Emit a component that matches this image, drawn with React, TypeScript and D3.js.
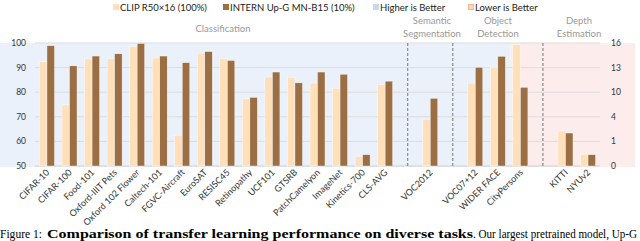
import React from "react";
import * as d3 from "d3";

const clsCats = ["CIFAR-10","CIFAR-100","Food-101","Oxford-IIIT Pets","Oxford 102 Flower","Caltech-101","FGVC-Aircraft","EuroSAT","RESISC45","Retinopathy","UCF101","GTSRB","PatchCamelyon","ImageNet","Kinetics-700","CLS-AVG"];
const clsClip = [92.4,74.8,93.5,93.6,98.5,93.9,62.5,95.8,93.6,77.3,86.2,86.1,83.7,81.6,54.0,83.0];
const clsIntern = [98.9,90.7,94.7,95.6,99.8,94.7,92.0,96.5,92.9,77.9,88.2,83.8,88.2,87.3,54.6,84.5];

const segCats = ["VOC2012"];
const segClip = [69.0];
const segIntern = [77.5];

const detCats = ["VOC07+12","WIDER FACE"];
const detClip = [83.7,90.2];
const detIntern = [90.1,94.6];

// lower-is-better tasks, read on the right axis
const lowCats = ["CityPersons","KITTI","NYUv2"];
const lowClip = [15.8,2.26,0.48];
const lowIntern = [10.6,2.02,0.46];

const leftTicks = [50,60,70,80,90,100];
const rightTicks = [0,1,4,10,13,16];

const sections = [
  { lines: ["Classification"], cx: 223, y: 32 },
  { lines: ["Semantic","Segmentation"], cx: 432, y: 24 },
  { lines: ["Object","Detection"], cx: 498, y: 24 },
  { lines: ["Depth","Estimation"], cx: 579, y: 24 },
];

const legendItems = [
  { label: "CLIP R50×16 (100%)", x: 113, kind: "clip" },
  { label: "INTERN Up-G MN-B15 (10%)", x: 223, kind: "intern" },
  { label: "Higher is Better", x: 373, kind: "high" },
  { label: "Lower is Better", x: 468, kind: "low" },
];

const C_CLIP = "#FFE0BA";
const C_INT = "#9B6F43";
const C_BLUE = "#EAF1FB";
const C_PINK = "#FDECEC";
const FONT = "Lato, 'Open Sans', sans-serif";
const SERIF = "'Liberation Serif', 'Times New Roman', serif";

export default function App() {
  const domain = [...clsCats, "|1", ...segCats, "|2", ...detCats, "CityPersons", "|3", "KITTI", "NYUv2"];
  const x = d3.scaleBand<string>().domain(domain).range([35.7, 599.3]).padding(0);
  const y = d3.scaleLinear().domain([50, 100]).range([166, 43]);
  const yR = d3.scaleLinear().domain(rightTicks).range(leftTicks.map((t) => y(t)));
  const bw = 7.5;

  type Bar = { cat: string; clip: number; intern: number; right: boolean };
  const bars: Bar[] = [];
  clsCats.forEach((c, i) => bars.push({ cat: c, clip: clsClip[i], intern: clsIntern[i], right: false }));
  segCats.forEach((c, i) => bars.push({ cat: c, clip: segClip[i], intern: segIntern[i], right: false }));
  detCats.forEach((c, i) => bars.push({ cat: c, clip: detClip[i], intern: detIntern[i], right: false }));
  lowCats.forEach((c, i) => bars.push({ cat: c, clip: lowClip[i], intern: lowIntern[i], right: true }));

  const cx = (c: string) => (x(c) as number) + x.bandwidth() / 2;
  const sepX = ["|1", "|2", "|3"].map(cx);
  const pinkStart = (x("CityPersons") as number) + 1.5;

  return (
    <svg width={640} height={241} style={{ position: "fixed", left: 0, top: 0, background: "#fff" }} fontFamily={FONT}>
      <rect x={0} y={43} width={pinkStart} height={124} fill={C_BLUE} />
      <rect x={pinkStart} y={43} width={635 - pinkStart} height={124} fill={C_PINK} />
      {leftTicks.map((t) => (
        <line key={t} x1={35} x2={600} y1={y(t)} y2={y(t)} stroke={t === 50 ? "#d0d0d0" : "#dcdcdc"} strokeWidth={1} />
      ))}
      {leftTicks.map((t) => (
        <text key={"l" + t} x={26} y={y(t)} dy="0.35em" textAnchor="end" fontSize={8.5} fill="#333">{t}</text>
      ))}
      {rightTicks.map((t) => (
        <text key={"r" + t} x={611} y={yR(t)} dy="0.35em" textAnchor="start" fontSize={8.5} fill="#333">{t}</text>
      ))}
      {sepX.map((sx, i) => (
        <line key={"s" + i} x1={sx} x2={sx} y1={43} y2={166} stroke="#8c8c8c" strokeWidth={1.2} strokeDasharray="3,2" />
      ))}
      {bars.map((b) => {
        const s = b.right ? yR : y;
        const c = cx(b.cat);
        return (
          <g key={b.cat}>
            <rect x={c - bw} y={s(b.clip)} width={bw} height={166 - s(b.clip)} fill={C_CLIP} stroke="#fff" strokeWidth={0.4} />
            <rect x={c} y={s(b.intern)} width={bw} height={166 - s(b.intern)} fill={C_INT} stroke="#fff" strokeWidth={0.4} />
          </g>
        );
      })}
      {bars.map((b) => {
        const c = cx(b.cat) + 3;
        return (
          <text key={"x" + b.cat} transform={`translate(${c},${173}) rotate(-45)`} textAnchor="end" fontSize={9} fill="#333">{b.cat}</text>
        );
      })}
      {sections.map((s, i) => (
        <text key={"sec" + i} x={s.cx} y={s.y} textAnchor="middle" fontSize={9.5} fill="#999">
          {s.lines.map((l, j) => (
            <tspan key={j} x={s.cx} dy={j === 0 ? 0 : 12.5}>{l}</tspan>
          ))}
        </text>
      ))}
      {legendItems.map((l) => (
        <g key={l.label}>
          {l.kind === "low" ? (
            <rect x={l.x + 0.5} y={4.5} width={5} height={5} fill="#FBD9B5" stroke="#F2B98A" strokeWidth={1} />
          ) : (
            <rect x={l.x} y={4} width={6} height={6} fill={l.kind === "clip" ? C_CLIP : l.kind === "intern" ? C_INT : "#C5D9F3"} />
          )}
          <text x={l.x + 7} y={10.5} fontSize={9.5} fill="#222">{l.label}</text>
        </g>
      ))}
      <g fontFamily={SERIF} fontSize={12} fill="#000">
        <text x={0} y={238} textLength={42} lengthAdjust="spacingAndGlyphs">Figure 1:</text>
        <text x={47} y={238} fontWeight="bold" textLength={426} lengthAdjust="spacingAndGlyphs">Comparison of transfer learning performance on diverse tasks</text>
        <text x={473} y={238} textLength={164} lengthAdjust="spacingAndGlyphs">. Our largest pretrained model, Up-G</text>
      </g>
    </svg>
  );
}
